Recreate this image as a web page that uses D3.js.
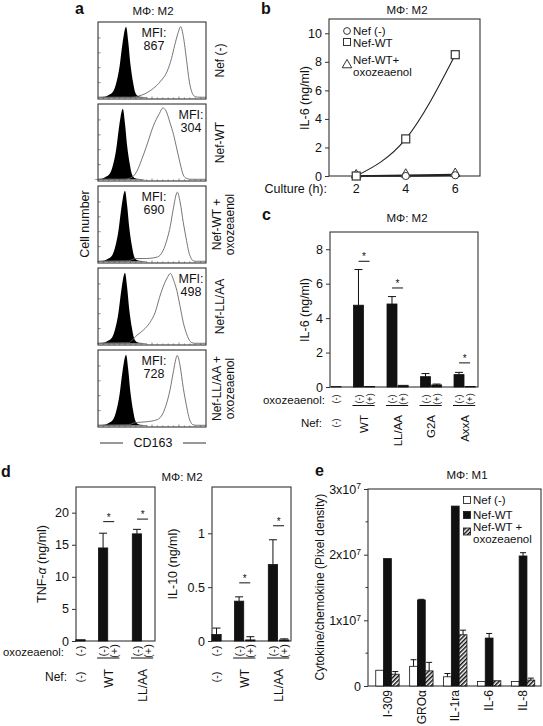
<!DOCTYPE html>
<html><head><meta charset="utf-8">
<script src="https://cdn.jsdelivr.net/npm/d3@7"></script>
<style>
body{margin:0;background:#fff}
text{font-family:"Liberation Sans",Arial,Helvetica,sans-serif;fill:#111}
</style>
</head><body>
<svg id="c" width="543" height="726"></svg>
<script>
// ---------------- DATA ----------------
// panel a: flow histograms (CD163), channel 0-100, % of max count
const histNames = [["Nef (-)"],["Nef-WT"],["Nef-WT +","oxozeaenol"],["Nef-LL/AA"],["Nef-LL/AA +","oxozeaenol"]];
const histMFI = [867, 304, 690, 498, 728];
const isoPeak = [26, 23, 25, 25, 26];
const isoOffset = [-26,-20,-16.5,-12,-9,-6,-4,-2,0,2,4,6.5,8,10,13,20];
const isoCount  = [0.5,1,3,8,20,42,65,85,95,75,45,20,9,3,1,0.3];
const openCh = [
  [0,30,40,51,58,64,68,71,74,76.6,79,82,84.5,86.7,89,92,100],
  [0,24,30,36,40,45,51,57,60,63,66.7,70,73,76,79,82,86,100],
  [0,28,35,45,55,60,64,67,69.5,73.5,76,79,82,84,86,88,91,100],
  [0,28,36,42,48,53,57,60,64,67,70,73,76,79,82,84,87,90,100],
  [0,28,35,45,55,60,64,67,69.5,73.5,76,79,82,84,86,88,91,100]
];
const openCount = [
  [0.5,0.5,3,12,22,35,52,70,86,95,82,50,22,8,2,0.5,0.3],
  [0.5,0.5,2,11,25,45,71,89,96,92,76,60,41,22,6,1.5,0.3,0.3],
  [0.5,1,4,4,6,14,30,48,69,93,80,52,28,13,5,1,0.3,0.3],
  [0.5,1,11,18,28,42,62,75,88,94,85,71,50,28,13,6,1,0.3,0.3],
  [0.5,1,4,5,8,16,32,50,70,94,80,50,26,12,4,1,0.3,0.3]
];
// panel b: IL-6 time course
const cultureH = [2, 4, 6];
const il6NefNone = [0, 0, 0.05];
const il6NefWT = [0, 2.6, 8.5];
const il6NefOxo = [0, 0.05, 0.1];
const bLegend = ["Nef (-)", "Nef-WT", "Nef-WT+", "oxozeaenol"];
// panel c: IL-6 by Nef mutant
const cGroups = ["WT", "LL/AA", "G2A", "AxxA"];
const cNefNone = 0.02;
const cMinus = [4.75, 4.82, 0.6, 0.72];
const cMinusErr = [2.07, 0.43, 0.18, 0.13];
const cPlus = [0.03, 0.1, 0.12, 0.03];
const cPlusErr = [0, 0, 0.05, 0];
const cSig = [7.3, 5.75, null, 1.4];
// panel d: TNF-a and IL-10
const dGroups = ["WT", "LL/AA"];
const tnfNone = 0.2, tnfNoneErr = 0;
const tnfMinus = [14.5, 16.7], tnfMinusErr = [2.3, 0.7];
const tnfPlus = [0, 0], tnfPlusErr = [0, 0];
const tnfSig = [18.6, 19.0];
const il10None = 0.06, il10NoneErr = 0.06;
const il10Minus = [0.37, 0.71], il10MinusErr = [0.04, 0.23];
const il10Plus = [0.01, 0.01], il10PlusErr = [0.03, 0.01];
const il10Sig = [0.54, 1.07];
// panel e: cytokine array, M1
const eCats = ["I-309", "GRO\u03b1", "IL-1ra", "IL-6", "IL-8"];
const eSeries = ["Nef (-)", "Nef-WT", "Nef-WT +"];
const eNefNone = [0.24e7, 0.30e7, 0.14e7, 0.07e7, 0.07e7];
const eNefNoneErr = [0, 0.10e7, 0.05e7, 0, 0];
const eNefWT = [1.94e7, 1.31e7, 2.74e7, 0.73e7, 1.98e7];
const eNefWTErr = [0, 0.01e7, 0, 0.07e7, 0.05e7];
const eNefOxo = [0.18e7, 0.23e7, 0.78e7, 0.08e7, 0.09e7];
const eNefOxoErr = [0.04e7, 0.13e7, 0.07e7, 0, 0.03e7];

// ---------------- DRAWING ----------------
const svg = d3.select("#c");
svg.append("rect").attr("width", 543).attr("height", 726).attr("fill", "#fff");
const defs = svg.append("defs");
const pat = defs.append("pattern").attr("id", "hatch").attr("patternUnits", "userSpaceOnUse")
  .attr("width", 3).attr("height", 3).attr("patternTransform", "rotate(45)");
pat.append("rect").attr("width", 3).attr("height", 3).attr("fill", "#fff");
pat.append("rect").attr("width", 1.5).attr("height", 3).attr("fill", "#111");

function text(x, y, s, o = {}) {
  const t = svg.append("text").attr("x", x).attr("y", y).text(s)
    .attr("font-size", o.size || 12).attr("text-anchor", o.anchor || "start");
  if (o.weight) t.attr("font-weight", o.weight);
  return t;
}
function rtext(x, y, s, o = {}) {
  const t = svg.append("text").attr("transform", `translate(${x},${y}) rotate(-90)`)
    .attr("dy", "0.35em").text(s).attr("font-size", o.size || 12)
    .attr("text-anchor", o.anchor || "middle");
  return t;
}
function frame(x0, y0, x1, y1) {
  svg.append("rect").attr("x", x0).attr("y", y0).attr("width", x1 - x0).attr("height", y1 - y0)
    .attr("fill", "none").attr("stroke", "#333").attr("stroke-width", 1.1);
}
function yAxis(x, scale, ticks, fmt, size) {
  const g = svg.append("g").attr("transform", `translate(${x},0)`)
    .call(d3.axisLeft(scale).tickValues(ticks).tickSize(4).tickPadding(3).tickFormat(fmt || (d => d)));
  g.select(".domain").remove();
  g.selectAll(".tick line").attr("stroke", "#333");
  g.selectAll("text").attr("font-size", size || 12.5).attr("fill", "#111")
    .attr("font-family", '"Liberation Sans",Arial,sans-serif');
  return g;
}
function bar(xc, w, yScale, v, fill) {
  svg.append("rect").attr("x", xc - w / 2).attr("y", yScale(v)).attr("width", w)
    .attr("height", yScale(0) - yScale(v)).attr("fill", fill).attr("stroke", "#111").attr("stroke-width", 0.8);
}
function errbar(xc, yScale, v, e, cap) {
  if (!e) return;
  svg.append("line").attr("x1", xc).attr("x2", xc).attr("y1", yScale(v)).attr("y2", yScale(v + e))
    .attr("stroke", "#111").attr("stroke-width", 1);
  svg.append("line").attr("x1", xc - cap / 2).attr("x2", xc + cap / 2).attr("y1", yScale(v + e)).attr("y2", yScale(v + e))
    .attr("stroke", "#111").attr("stroke-width", 1);
}
function sig(xc, w, y) {
  svg.append("line").attr("x1", xc - w / 2).attr("x2", xc + w / 2).attr("y1", y).attr("y2", y)
    .attr("stroke", "#111").attr("stroke-width", 1);
  text(xc, y - 1, "*", { size: 10, anchor: "middle" });
}
function sym(x, y, s, size) { rtext(x, y, s, { size: size }); }

// ----- panel a -----
text(75, 14, "a", { size: 16, weight: "bold" });
text(153, 15, "M\u03a6: M2", { size: 11.5, anchor: "middle" });
const aX = d3.scaleLinear().domain([0, 100]).range([98, 206]);
const boxTop = [22, 104, 186, 268, 350], boxH = 77;
const mfiX = [154, 191, 154, 191, 154];
histNames.forEach((nm, i) => {
  const y0 = boxTop[i];
  const aY = d3.scaleLinear().domain([0, 100]).range([y0 + boxH - 1.5, y0 + 1]);
  const iso = isoOffset.map((o, k) => [isoPeak[i] + o, isoCount[k]]);
  svg.append("path").datum(iso)
    .attr("d", d3.area().x(d => aX(d[0])).y0(aY(0)).y1(d => aY(d[1])).curve(d3.curveMonotoneX))
    .attr("fill", "#000");
  const op = openCh[i].map((c, k) => [c, openCount[i][k]]);
  svg.append("path").datum(op)
    .attr("d", d3.line().x(d => aX(d[0])).y(d => aY(d[1])).curve(d3.curveMonotoneX))
    .attr("fill", "none").attr("stroke", "#666").attr("stroke-width", 0.9);
  frame(98, y0, 206, y0 + boxH);
  // inner ticks
  [20, 40, 60, 80].forEach(v => svg.append("line").attr("x1", 98).attr("x2", 100.5)
    .attr("y1", aY(v)).attr("y2", aY(v)).attr("stroke", "#555").attr("stroke-width", 0.7));
  d3.range(5, 100, 5).forEach(v => svg.append("line").attr("x1", aX(v)).attr("x2", aX(v))
    .attr("y1", y0 + boxH).attr("y2", y0 + boxH - (v % 25 === 0 ? 2.5 : 1.5)).attr("stroke", "#555").attr("stroke-width", 0.7));
  text(mfiX[i], y0 + 15, "MFI:", { size: 12.5, anchor: "middle" });
  text(mfiX[i], y0 + 28, histMFI[i], { size: 12.5, anchor: "middle" });
  const cy = y0 + boxH / 2;
  if (nm.length === 1) rtext(220, cy, nm[0], { size: 12 });
  else { rtext(216.5, cy, nm[0], { size: 12 }); rtext(230, cy, nm[1], { size: 12 }); }
});
rtext(85, 224, "Cell number", { size: 12.5 });
text(153, 447, "CD163", { size: 12.5, anchor: "middle" });
svg.append("line").attr("x1", 100).attr("x2", 123).attr("y1", 443).attr("y2", 443).attr("stroke", "#333");
svg.append("line").attr("x1", 183).attr("x2", 206).attr("y1", 443).attr("y2", 443).attr("stroke", "#333");

// ----- panel b -----
text(261, 14, "b", { size: 16, weight: "bold" });
text(407, 14, "M\u03a6: M2", { size: 11.5, anchor: "middle" });
const bX = d3.scaleLinear().domain([0.9, 7]).range([329, 480]);
const bY = d3.scaleLinear().domain([0, 11]).range([176, 19]);
frame(329, 19, 480, 176);
yAxis(329, bY, [0, 2, 4, 6, 8, 10]);
rtext(305, 98, "IL-6 (ng/ml)", { size: 12.5 });
cultureH.forEach(h => text(bX(h), 193, h, { size: 12.5, anchor: "middle" }));
text(327, 193, "Culture (h):", { size: 12.5, anchor: "end" });
const bLine = d3.line().x((d, i) => bX(cultureH[i])).y(d => bY(d)).curve(d3.curveMonotoneX);
[il6NefNone, il6NefOxo].forEach(s => svg.append("path").datum(s).attr("d", bLine)
  .attr("fill", "none").attr("stroke", "#222").attr("stroke-width", 1.6));
svg.append("path").datum(il6NefWT).attr("d", bLine).attr("fill", "none").attr("stroke", "#222").attr("stroke-width", 1.1);
const triSym = d3.symbol().type(d3.symbolTriangle).size(40);
il6NefOxo.forEach((v, i) => svg.append("path").attr("d", triSym)
  .attr("transform", `translate(${bX(cultureH[i])},${bY(v) - 1})`).attr("fill", "#fff").attr("stroke", "#333").attr("stroke-width", 1));
il6NefNone.forEach((v, i) => svg.append("circle").attr("cx", bX(cultureH[i])).attr("cy", bY(v)).attr("r", 3.6)
  .attr("fill", "#fff").attr("stroke", "#333").attr("stroke-width", 1));
il6NefWT.forEach((v, i) => svg.append("rect").attr("x", bX(cultureH[i]) - 4).attr("y", bY(v) - 4)
  .attr("width", 8).attr("height", 8).attr("fill", "#fff").attr("stroke", "#333").attr("stroke-width", 1.2));
svg.append("circle").attr("cx", 347).attr("cy", 31).attr("r", 3.4).attr("fill", "#fff").attr("stroke", "#333");
text(353, 35, bLegend[0], { size: 11.5 });
svg.append("rect").attr("x", 343.5).attr("y", 38.5).attr("width", 7).attr("height", 7).attr("fill", "#fff").attr("stroke", "#333");
text(353, 46.5, bLegend[1], { size: 11.5 });
svg.append("path").attr("d", triSym).attr("transform", "translate(347,65)").attr("fill", "#fff").attr("stroke", "#333");
text(353, 64, bLegend[2], { size: 11.5 });
text(353, 76, bLegend[3], { size: 11.5 });

// ----- panel c -----
text(262, 220, "c", { size: 16, weight: "bold" });
text(407, 222, "M\u03a6: M2", { size: 11.5, anchor: "middle" });
const cX = d3.scaleLinear().domain([-0.55, 12.7]).range([330, 478]);
const cY = d3.scaleLinear().domain([0, 9]).range([387, 232]);
frame(330, 232, 478, 387);
yAxis(330, cY, [0, 2, 4, 6, 8]);
rtext(305, 310, "IL-6 (ng/ml)", { size: 12.5 });
const cBW = 10;
bar(cX(0), cBW, cY, cNefNone, "#111");
text(325, 404, "oxozeaenol:", { size: 11.5, anchor: "end" });
text(322, 427, "Nef:", { size: 11.5, anchor: "end" });
sym(cX(0), 399, "(-)", 9);
sym(cX(0), 423, "(-)", 9);
cGroups.forEach((g, k) => {
  const xm = cX(3 * k + 2), xp = cX(3 * k + 3);
  bar(xm, cBW, cY, cMinus[k], "#111");
  errbar(xm, cY, cMinus[k], cMinusErr[k], 8);
  bar(xp, cBW, cY, cPlus[k], "#111");
  errbar(xp, cY, cPlus[k], cPlusErr[k], 8);
  if (cSig[k] !== null) sig((xm + xp) / 2, 11, cY(cSig[k]));
  sym(xm, 399, "(-)", 9);
  sym(xp, 399, "(+)", 9);
  svg.append("line").attr("x1", xm - 6).attr("x2", xp + 5).attr("y1", 405.5).attr("y2", 405.5).attr("stroke", "#111");
  rtext((xm + xp) / 2, 415, g, { size: 11.5, anchor: "end" });
});

// ----- panel d -----
text(1, 477, "d", { size: 16, weight: "bold" });
text(182, 481, "M\u03a6: M2", { size: 11.5, anchor: "middle" });
function panelD(x0, x1, yDom, ticks, none, noneErr, minus, minusErr, plus, plusErr, sigs) {
  const x = d3.scaleLinear().domain([-0.4, 6.6]).range([x0, x1]);
  const y = d3.scaleLinear().domain(yDom).range([641, 487]);
  frame(x0, 487, x1, 641);
  yAxis(x0, y, ticks);
  const w = 9.3;
  bar(x(0), w, y, none, "#111");
  errbar(x(0), y, none, noneErr, 8);
  sym(x(0), 651, "(-)", 11);
  sym(x(0), 677, "(-)", 11);
  dGroups.forEach((g, k) => {
    const xm = x(3 * k + 2), xp = x(3 * k + 3);
    bar(xm, w, y, minus[k], "#111");
    errbar(xm, y, minus[k], minusErr[k], 8);
    if (plus[k] > 0) bar(xp, w, y, plus[k], "#111");
    errbar(xp, y, plus[k], plusErr[k], 8);
    sig((xm + xp) / 2, 11, y(sigs[k]));
    sym(xm, 651, "(-)", 11);
    sym(xp, 651, "(+)", 11);
    svg.append("line").attr("x1", xm - 6).attr("x2", xp + 5).attr("y1", 658).attr("y2", 658).attr("stroke", "#111");
    rtext((xm + xp) / 2, 669, g, { size: 12, anchor: "end" });
  });
}
panelD(76, 155, [0, 24], [0, 5, 10, 15, 20], tnfNone, tnfNoneErr, tnfMinus, tnfMinusErr, tnfPlus, tnfPlusErr, tnfSig);
panelD(212, 291, [0, 1.43], [0, 0.5, 1], il10None, il10NoneErr, il10Minus, il10MinusErr, il10Plus, il10PlusErr, il10Sig);
const tl = svg.append("text").attr("transform", "translate(42,564) rotate(-90)").attr("dy", "0.35em")
  .attr("text-anchor", "middle").attr("font-size", 12.5);
tl.append("tspan").text("TNF-");
tl.append("tspan").attr("font-style", "italic").text("\u03b1");
tl.append("tspan").text(" (ng/ml)");
rtext(173, 564, "IL-10 (ng/ml)", { size: 12.5 });
text(64, 656, "oxozeaenol:", { size: 11.3, anchor: "end" });
text(67, 681, "Nef:", { size: 12, anchor: "end" });

// ----- panel e -----
text(315, 476, "e", { size: 16, weight: "bold" });
text(467, 479, "M\u03a6: M1", { size: 11.5, anchor: "middle" });
const eX = d3.scaleBand().domain(eCats).range([370.5, 540]);
const eY = d3.scaleLinear().domain([0, 3e7]).range([686, 489]);
frame(368, 489, 541, 686);
const ey = yAxis(368, eY, [0, 1e7, 2e7, 3e7], d => "", 12.5);
ey.selectAll(".tick text").each(function (d) {
  const t = d3.select(this);
  if (d === 0) { t.text("0"); return; }
  t.append("tspan").text((d / 1e7) + "x10");
  t.append("tspan").attr("dy", "-0.5em").attr("font-size", 8.5).text("7");
});
[0.5e7, 1.5e7, 2.5e7].forEach(v => svg.append("line").attr("x1", 365.5).attr("x2", 368)
  .attr("y1", eY(v)).attr("y2", eY(v)).attr("stroke", "#333"));
rtext(320, 587, "Cytokine/chemokine (Pixel density)", { size: 12 });
const eBW = 7.8;
const eData = [[eNefNone, eNefNoneErr, "#fff"], [eNefWT, eNefWTErr, "#111"], [eNefOxo, eNefOxoErr, "url(#hatch)"]];
eCats.forEach((c, i) => {
  const xc = eX(c) + eX.bandwidth() / 2;
  eData.forEach(([vals, errs, fill], s) => {
    const bx = xc + (s - 1) * eBW;
    bar(bx, eBW, eY, vals[i], fill);
    errbar(bx, eY, vals[i], errs[i], 6);
  });
  rtext(xc, 690, c, { size: 12, anchor: "end" });
});
const legY = [500, 515, 531.5];
eData.forEach(([v, e, fill], s) => svg.append("rect").attr("x", 463.5).attr("y", legY[s] - 3.5)
  .attr("width", 7).attr("height", 7).attr("fill", fill).attr("stroke", "#111").attr("stroke-width", 0.8));
text(473, 504, eSeries[0], { size: 11.5 });
text(473, 519, eSeries[1], { size: 11.5 });
text(473, 531, eSeries[2], { size: 11.5 });
text(473, 543, "oxozeaenol", { size: 11.5 });
</script>
</body></html>
